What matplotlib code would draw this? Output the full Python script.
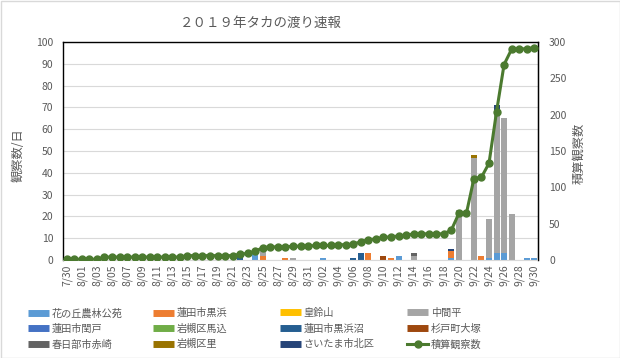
import numpy as np
import pandas as pd
import matplotlib
matplotlib.use('Agg')
import matplotlib.pyplot as plt
from matplotlib.lines import Line2D
from matplotlib.patches import Rectangle

plt.rcParams['font.family'] = ['Noto Sans CJK JP', 'DejaVu Sans']

dates = pd.date_range('2019-07-30', '2019-09-30')
labels = [f'{d.month}/{d.day:02d}' for d in dates]

# daily counts per site (date -> birds), missing days are zero
hananooka = {'8/24': 3, '9/02': 1, '9/12': 2, '9/19': 1, '9/24': 1, '9/25': 3, '9/26': 3, '9/29': 1, '9/30': 1}
hasuda_kurohama = {'8/25': 2, '8/28': 1, '9/08': 3, '9/11': 1, '9/19': 3, '9/23': 2}
minesuzu = {}
nakamadaira = {'8/25': 3, '8/29': 1, '9/14': 2, '9/20': 23, '9/22': 47, '9/24': 18, '9/25': 66, '9/26': 62, '9/27': 21}
hasuda_uruido = {}
iwatsuki_magome = {}
hasuda_kurohamanuma = {'7/30': 1, '8/22': 2, '9/06': 1, '9/07': 3}
sugito_otsuka = {'9/10': 2}
kasukabe_akasaki = {'9/14': 1}
iwatsuki_sato = {'9/22': 1}
saitama_kitaku = {'9/19': 1, '9/25': 2}

# cumulative count
cumulative = [1, 1, 1, 1, 1, 4, 4, 4, 4, 4, 4, 4, 4, 4, 4, 4, 6, 6, 6, 6, 6, 6, 6,
              8, 9, 12, 17, 18, 18, 18, 19, 19, 19, 20, 20, 20, 21, 21, 22, 25, 28,
              29, 31, 32, 33, 34, 36, 36, 36, 36, 36, 41, 64, 64, 112, 114, 133, 204,
              269, 290, 290, 291, 292]

series = [
    ('花の丘農林公苑', hananooka, '#5B9BD5'),
    ('蓮田市黒浜', hasuda_kurohama, '#ED7D31'),
    ('皇鈴山', minesuzu, '#FFC000'),
    ('中間平', nakamadaira, '#A5A5A5'),
    ('蓮田市閏戸', hasuda_uruido, '#4472C4'),
    ('岩槻区馬込', iwatsuki_magome, '#70AD47'),
    ('蓮田市黒浜沼', hasuda_kurohamanuma, '#255E91'),
    ('杉戸町大塚', sugito_otsuka, '#9E480E'),
    ('春日部市赤崎', kasukabe_akasaki, '#636363'),
    ('岩槻区里', iwatsuki_sato, '#997300'),
    ('さいたま市北区', saitama_kitaku, '#264478'),
]
line_color = '#4B7A2F'
text_color = '#595959'

W, H = 620, 358
fig = plt.figure(figsize=(W / 100, H / 100), dpi=100)
ax = fig.add_axes([63 / W, 1 - 260 / H, 475 / W, 218 / H])

x = np.arange(len(labels))
bottom = np.zeros(len(labels))
for name, d, c in series:
    vals = np.array([d.get(l, 0) for l in labels], dtype=float)
    ax.bar(x, vals, 0.8, bottom=bottom, color=c, zorder=2)
    bottom += vals

ax.set_xlim(-0.5, len(labels) - 0.5)
ax.set_ylim(0, 100)
ax.set_yticks(np.arange(0, 101, 10))
ax.set_xticks(x[::2])
ax.set_xticklabels(labels[::2], rotation=90)
ax.grid(axis='y', color='#D9D9D9', lw=0.8)
ax.set_axisbelow(True)
ax.tick_params(axis='y', length=0, pad=7, labelsize=7.5, labelcolor=text_color)
ax.tick_params(axis='x', length=0, pad=3, labelsize=7.5, labelcolor=text_color)
for s in ['left', 'top', 'right']:
    ax.spines[s].set_color('black')
    ax.spines[s].set_linewidth(1)
ax.spines['bottom'].set_color('#D9D9D9')

ax2 = ax.twinx()
ax2.plot(x, cumulative, color=line_color, lw=2.2, marker='o', ms=5, zorder=3)
ax2.set_ylim(0, 300)
ax2.set_yticks(np.arange(0, 301, 50))
ax2.tick_params(axis='y', length=0, pad=8, labelsize=7.5, labelcolor=text_color)
for s in ['left', 'top', 'bottom']:
    ax2.spines[s].set_visible(False)
ax2.spines['right'].set_color('black')

fig.text(261 / W, 1 - 23 / H, '２０１９年タカの渡り速報', ha='center', va='center',
         fontsize=9.7, color=text_color)
fig.text(18 / W, 1 - 155 / H, '観察数/日', rotation=90, ha='center', va='center',
         fontsize=8.8, color=text_color)
fig.text(579 / W, 1 - 153 / H, '積算観察数', rotation=90, ha='center', va='center',
         fontsize=8.8, color=text_color)

# legend: 4 columns, 3 rows
handles = [Line2D([0], [0], color=c, lw=5, solid_capstyle='butt') for _, _, c in series]
handles.append(Line2D([0], [0], color=line_color, lw=2.2, marker='o', ms=5))
names = [n for n, _, _ in series] + ['積算観察数']
col_x = [28, 153, 280, 407]
for j, cx in enumerate(col_x):
    idx = [j, j + 4, j + 8]
    fig.legend([handles[i] for i in idx], [names[i] for i in idx], loc='upper left',
               bbox_to_anchor=(cx / W, 1 - 308 / H), frameon=False, borderpad=0,
               borderaxespad=0, handlelength=2.1, handletextpad=0.25, labelspacing=0.55,
               prop={'size': 7.3}, labelcolor=text_color)

fig.patches.append(Rectangle((0.5 / W, 0.5 / H), 1 - 1 / W, 1 - 1 / H, transform=fig.transFigure,
                             fill=False, edgecolor='#D9D9D9', lw=1))

fig.savefig('out.png', dpi=100)
